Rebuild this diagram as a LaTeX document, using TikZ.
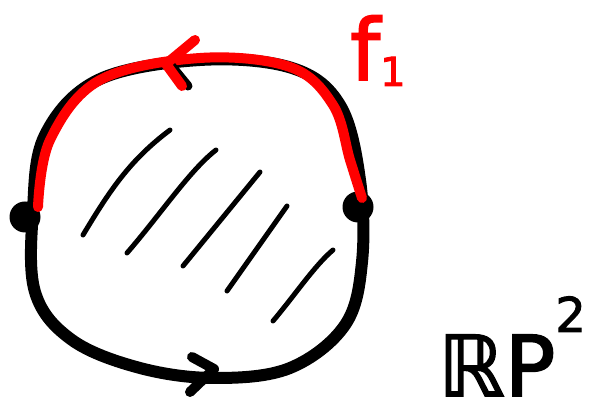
\documentclass[tikz,border=0pt]{standalone}
\usepackage{fontspec}
\newfontfamily\dv{DejaVu Sans}[FakeBold=2]
\begin{document}
\begin{tikzpicture}[x=1pt,y=-1pt,
  outline/.style={line width=12pt,line cap=round,line join=round,black},
  redline/.style={line width=10pt,line cap=round,line join=round,red},
  hatch/.style={line width=5pt,line cap=round,black},
  dotnode/.style={circle,fill=black,inner sep=0pt,minimum size=31pt}]
\useasboundingbox (0,0) rectangle (616,419);
\node[dotnode] (L) at (25,217) {};
\node[dotnode] (R) at (358,207) {};
% black boundary
\draw[outline] plot[smooth cycle,tension=0.6] coordinates {(33,210) (45,135) (98,80) (200,60) (292,68) (340,105) (360,180) (362,262) (345,325) (290,368) (215,378) (140,368) (72,340) (35,292)};
% red upper arc
\draw[redline] plot[smooth,tension=0.6] coordinates {(38,207) (50,140) (100,80) (200,58) (290,67) (333,105) (350,160) (362,198)};
% arrowheads
\draw[outline,line width=9pt] (170,64) -- (188,86);
\draw[redline] (195,40) -- (166,64) -- (182,86);
\draw[outline,line width=10pt] (192,357) -- (214,369) -- (190,392);
% hatching
\draw[hatch] (83,235) .. controls (110,190) and (130,160) .. (170,130);
\draw[hatch] (127,253) .. controls (160,215) and (190,170) .. (216,150);
\draw[hatch] (183,266) -- (260,172);
\draw[hatch] (227,291) -- (287,206);
\draw[hatch] (273,321) .. controls (295,295) and (315,265) .. (333,250);
% labels
\node[red,font=\dv\fontsize{85}{85}\selectfont,anchor=base west,inner sep=0pt] (f) at (350,80) {f\raisebox{-6pt}{\fontsize{40}{40}\selectfont 1}};
\node[black,font=\dv\fontsize{84}{84}\selectfont,anchor=base west,inner sep=0pt] (rp) at (438,396) {ℝP\raisebox{64pt}{\fontsize{48}{48}\selectfont 2}};
\end{tikzpicture}
\end{document}
